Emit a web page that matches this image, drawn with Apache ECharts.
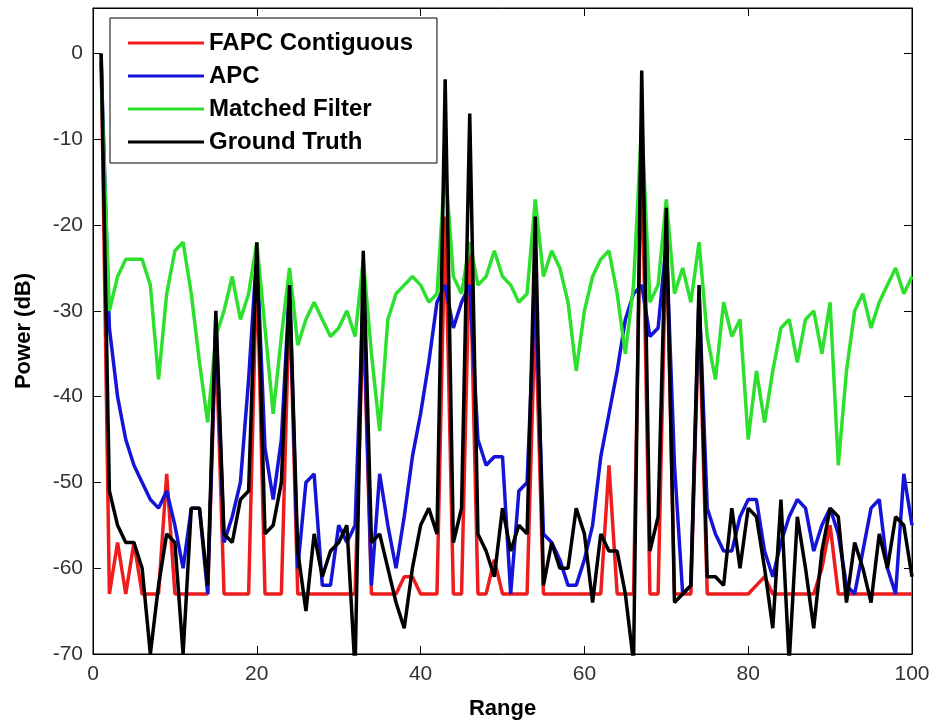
<!DOCTYPE html>
<html>
<head>
<meta charset="utf-8">
<title>Power vs Range</title>
<script src="https://cdn.jsdelivr.net/npm/echarts@6/dist/echarts.min.js"></script>
<style>
html, body { margin: 0; padding: 0; background: #fff; }
#chart { width: 938px; height: 725px; }
</style>
</head>
<body>
<div id="chart"></div>
<script>
// range bins 1..100
var seriesNames = ['FAPC Contiguous', 'APC', 'Matched Filter', 'Ground Truth'];
var xTicks = [0, 20, 40, 60, 80, 100];
var yTicks = [-70, -60, -50, -40, -30, -20, -10, 0];

var fapc = [0, -63, -57, -63, -57, -63, -63, -63, -49, -63,
            -63, -63, -63, -63, -33, -63, -63, -63, -63, -24,
            -63, -63, -63, -28, -63, -63, -63, -63, -63, -63,
            -63, -63, -30, -63, -63, -63, -63, -61, -61, -63,
            -63, -63, -19, -63, -63, -22, -63, -63, -59, -63,
            -63, -63, -63, -30, -63, -63, -63, -63, -63, -63,
            -63, -63, -48, -63, -63, -63, -10, -63, -63, -20,
            -63, -63, -63, -30, -63, -63, -63, -63, -63, -63,
            -62, -61, -63, -63, -63, -63, -63, -63, -60, -55,
            -63, -63, -63, -63, -63, -63, -63, -63, -63, -63];

var apc = [-1, -32, -40, -45, -48, -50, -52, -53, -51, -55,
           -60, -53, -53, -63, -31, -57, -54, -50, -38, -23,
           -46, -52, -45, -27, -60, -50, -49, -62, -62, -55,
           -57, -55, -28, -62, -49, -55, -60, -54, -47, -42,
           -36, -29, -27, -32, -29, -27, -45, -48, -47, -47,
           -63, -51, -50, -27, -56, -57, -59, -62, -62, -59,
           -55, -47, -42, -37, -31, -28, -27, -33, -32, -22,
           -48, -63, -62, -28, -53, -56, -58, -58, -54, -52,
           -52, -58, -61, -57, -54, -52, -53, -58, -55, -53,
           -56, -62, -63, -58, -53, -52, -60, -63, -49, -55];

var matched = [-3, -30, -26, -24, -24, -24, -27, -38, -28, -23,
               -22, -28, -36, -43, -33, -30, -26, -31, -28, -22,
               -32, -42, -33, -25, -34, -31, -29, -31, -33, -32,
               -30, -33, -24, -35, -44, -31, -28, -27, -26, -27,
               -29, -28, -13, -26, -28, -22, -27, -26, -23, -26,
               -27, -29, -28, -17, -26, -23, -25, -29, -37, -30,
               -26, -24, -23, -28, -35, -27, -8, -29, -27, -17,
               -28, -25, -29, -22, -33, -38, -29, -33, -31, -45,
               -37, -43, -37, -32, -31, -36, -31, -30, -35, -29,
               -48, -37, -30, -28, -32, -29, -27, -25, -28, -26];

var truth = [0, -51, -55, -57, -57, -60, -70, -62, -56, -57,
             -70, -53, -53, -62, -30, -56, -57, -52, -51, -22,
             -56, -55, -50, -27, -58, -65, -56, -61, -58, -57,
             -55, -72, -23, -57, -56, -60, -64, -67, -60, -55,
             -53, -56, -3, -57, -53, -7, -56, -58, -61, -53,
             -58, -55, -56, -19, -62, -57, -60, -60, -53, -56,
             -64, -56, -58, -58, -63, -71, -2, -58, -54, -18,
             -64, -63, -62, -27, -61, -61, -62, -53, -60, -53,
             -54, -60, -67, -52, -71, -54, -60, -67, -58, -53,
             -54, -64, -57, -60, -64, -56, -60, -54, -55, -61];

var colors = ['#ee1c1c', '#1414d8', '#2ee02e', '#000000'];

function toPairs(arr) {
  return arr.map(function (v, i) { return [i + 1, v]; });
}

var font = 'Liberation Sans, Arial, sans-serif';
var chart = echarts.init(document.getElementById('chart'));

function mkSeries(name, arr, color) {
  return {
    name: name,
    type: 'line',
    data: toPairs(arr),
    symbol: 'none',
    clip: true,
    lineStyle: { color: color, width: 3.5 },
    itemStyle: { color: color },
    animation: false
  };
}

var boxAxis = {
  axisLine: { onZero: false, lineStyle: { color: '#000' } },
  axisTick: { inside: true, length: 8, lineStyle: { color: '#000' } },
  splitLine: { show: false }
};

var option = {
  backgroundColor: '#fff',
  animation: false,
  grid: { left: 93, right: 26, top: 8, bottom: 65, show: true, borderColor: '#000', borderWidth: 1 },
  legend: {
    orient: 'vertical',
    left: 110,
    top: 18,
    backgroundColor: '#fff',
    borderColor: '#000',
    borderWidth: 1,
    borderRadius: 0,
    padding: [13, 24, 9, 18],
    icon: 'rect',
    itemWidth: 76,
    itemHeight: 3,
    itemGap: 9,
    data: seriesNames,
    textStyle: { fontFamily: font, fontWeight: 'bold', fontSize: 24, lineHeight: 23, color: '#000' }
  },
  xAxis: [Object.assign({
    type: 'value',
    min: xTicks[0],
    max: xTicks[xTicks.length - 1],
    interval: 20,
    name: 'Range',
    nameLocation: 'middle',
    nameGap: 44,
    nameTextStyle: { fontFamily: font, fontWeight: 'bold', fontSize: 22, color: '#000' },
    axisLabel: { fontFamily: font, fontSize: 21, color: '#333', margin: 10 }
  }, boxAxis), Object.assign({
    type: 'value',
    position: 'top',
    min: 0, max: 100, interval: 20,
    axisLabel: { show: false }
  }, boxAxis)],
  yAxis: [Object.assign({
    type: 'value',
    min: yTicks[0],
    max: 5.3,
    interval: 10,
    name: 'Power (dB)',
    nameLocation: 'middle',
    nameGap: 58,
    nameRotate: 90,
    nameTextStyle: { fontFamily: font, fontWeight: 'bold', fontSize: 22, color: '#000' },
    axisLabel: {
      fontFamily: font, fontSize: 21, color: '#333', margin: 10,
      formatter: function (v) { return yTicks.indexOf(v) >= 0 ? String(v) : ''; }
    }
  }, boxAxis), Object.assign({
    type: 'value',
    position: 'right',
    min: -70, max: 5.3, interval: 10,
    axisLabel: { show: false }
  }, boxAxis)],
  series: [
    mkSeries(seriesNames[0], fapc, colors[0]),
    mkSeries(seriesNames[1], apc, colors[1]),
    mkSeries(seriesNames[2], matched, colors[2]),
    mkSeries(seriesNames[3], truth, colors[3])
  ]
};

chart.setOption(option);
</script>
</body>
</html>
